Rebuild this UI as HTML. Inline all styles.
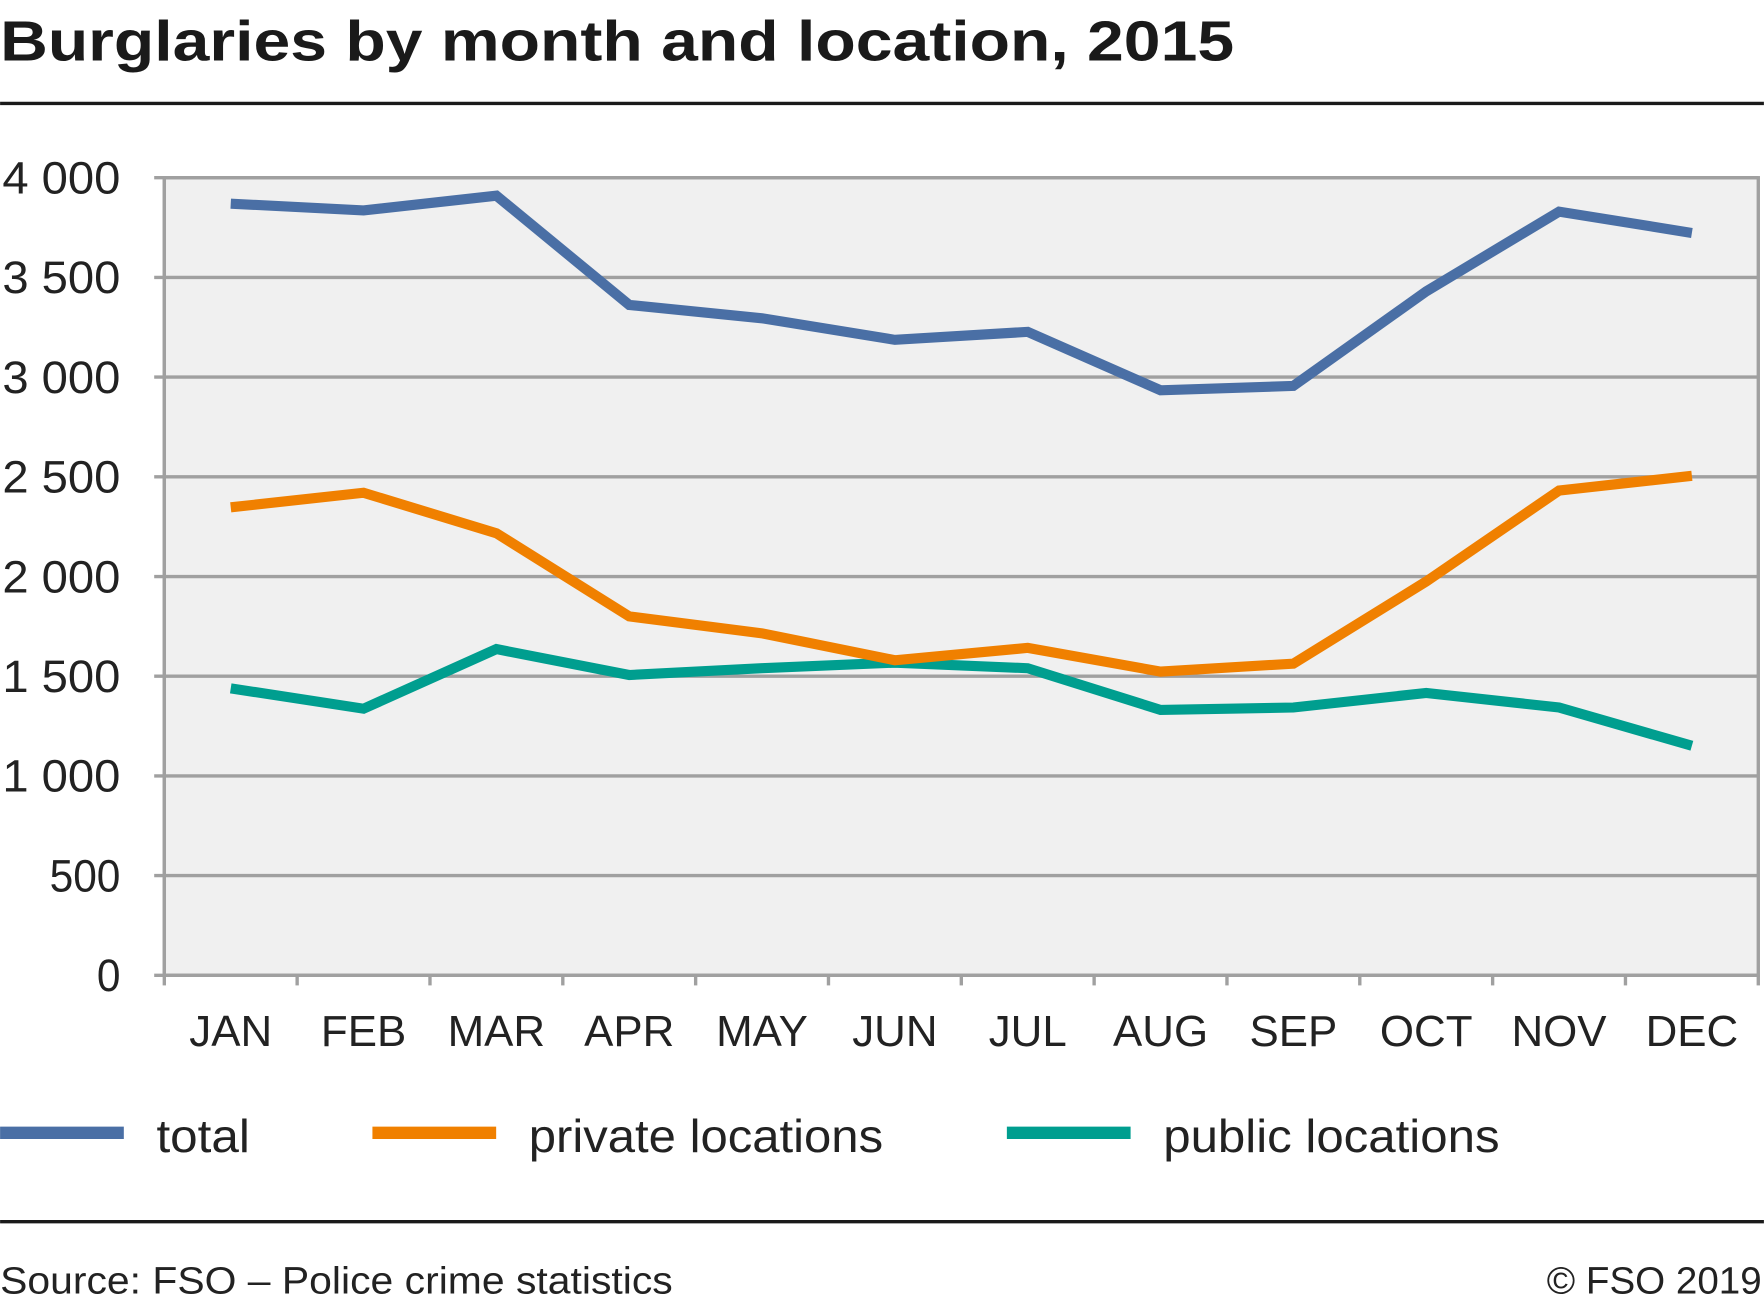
<!DOCTYPE html>
<html><head><meta charset="utf-8"><style>
html,body{margin:0;padding:0;background:#fff;}
svg{display:block;font-family:"Liberation Sans",sans-serif;}
</style></head><body>
<svg id="chart" width="1764" height="1306" viewBox="0 0 1568 1161" xmlns="http://www.w3.org/2000/svg">
<text x="0" y="54" font-size="50" font-weight="bold" fill="#1a1a1a" textLength="1097" lengthAdjust="spacingAndGlyphs">Burglaries by month and location, 2015</text>
<line x1="0" y1="92" x2="1568" y2="92" stroke="#1a1a1a" stroke-width="3"/>
<rect x="146" y="158" width="1417" height="709" fill="#f0f0f0" stroke="#a0a0a0" stroke-width="3"/>
<g id="grid"></g>
<g id="series"></g>
<g>
<line x1="0" y1="1007" x2="110" y2="1007" stroke="#4a6fa5" stroke-width="11"/>
<text x="139" y="1024" font-size="41" fill="#222" textLength="83" lengthAdjust="spacingAndGlyphs">total</text>
<line x1="331" y1="1007" x2="441" y2="1007" stroke="#f08000" stroke-width="11"/>
<text x="470" y="1024" font-size="41" fill="#222" textLength="315" lengthAdjust="spacingAndGlyphs">private locations</text>
<line x1="895" y1="1007" x2="1005" y2="1007" stroke="#009e8f" stroke-width="11"/>
<text x="1034" y="1024" font-size="41" fill="#222" textLength="299" lengthAdjust="spacingAndGlyphs">public locations</text>
</g>
<line x1="0" y1="1086" x2="1568" y2="1086" stroke="#1a1a1a" stroke-width="3"/>
<text x="0" y="1150" font-size="34" fill="#222" textLength="598" lengthAdjust="spacingAndGlyphs">Source: FSO – Police crime statistics</text>
<text x="1375" y="1150" font-size="34" fill="#222" textLength="191" lengthAdjust="spacingAndGlyphs">© FSO 2019</text>
</svg>
<script>
const months = ["JAN","FEB","MAR","APR","MAY","JUN","JUL","AUG","SEP","OCT","NOV","DEC"];
const yTicks = [0,500,1000,1500,2000,2500,3000,3500,4000];
const yTickLabels = ["0","500","1 000","1 500","2 000","2 500","3 000","3 500","4 000"];
const totalValues = [3870,3836,3910,3362,3295,3187,3227,2934,2956,3430,3830,3723];
const privateValues = [2347,2420,2217,1800,1715,1580,1642,1523,1563,1975,2431,2505];
const publicValues = [1439,1337,1636,1506,1540,1568,1540,1331,1343,1416,1343,1151];

const NS = "http://www.w3.org/2000/svg";
const L = 146, R = 1563, T = 158, B = 867, YMAX = 4000;
const band = (R - L) / months.length;
const xPos = i => L + band * (i + 0.5);
const yPos = v => B - (v / YMAX) * (B - T);
function mk(tag, attrs, parent){ const e=document.createElementNS(NS,tag); for(const k in attrs) e.setAttribute(k,attrs[k]); parent.appendChild(e); return e; }

const grid = document.getElementById('grid');
yTicks.forEach((v,i)=>{
  const y = yPos(v);
  const gl = mk('line',{x1:137,y1:y,x2:R,y2:y,stroke:'#a0a0a0','stroke-width':3},grid);
  
  
  const lbl = yTickLabels[i];
  const w = lbl.length * 21;
  const t = mk('text',{x:107-w,y:y+14,'font-size':40,fill:'#222',textLength:w,lengthAdjust:'spacingAndGlyphs'},grid);
  t.textContent = lbl;
  
  
});
const ax = mk('line',{x1:L,y1:T,x2:L,y2:B,stroke:'#a0a0a0','stroke-width':3},grid);


for(let i=0;i<=months.length;i++){
  const x = L + band*i;
  const tk = mk('line',{x1:x,y1:B,x2:x,y2:B+9,stroke:'#a0a0a0','stroke-width':3},grid);
  
  
}
months.forEach((m,i)=>{
  const t = mk('text',{x:xPos(i),y:930,'font-size':39,fill:'#222','text-anchor':'middle'},grid);
  t.textContent = m;
  
  
});

const series = document.getElementById('series');
function drawLine(vals,color,name){
  const pts = vals.map((v,i)=>xPos(i)+','+yPos(v)).join(' ');
  const p = mk('polyline',{points:pts,fill:'none',stroke:color,'stroke-width':9,'stroke-linejoin':'miter'},series);
  
  
}
drawLine(publicValues,'#009e8f','public-locations-line');
drawLine(privateValues,'#f08000','private-locations-line');
drawLine(totalValues,'#4a6fa5','total-line');
</script>
</body></html>
